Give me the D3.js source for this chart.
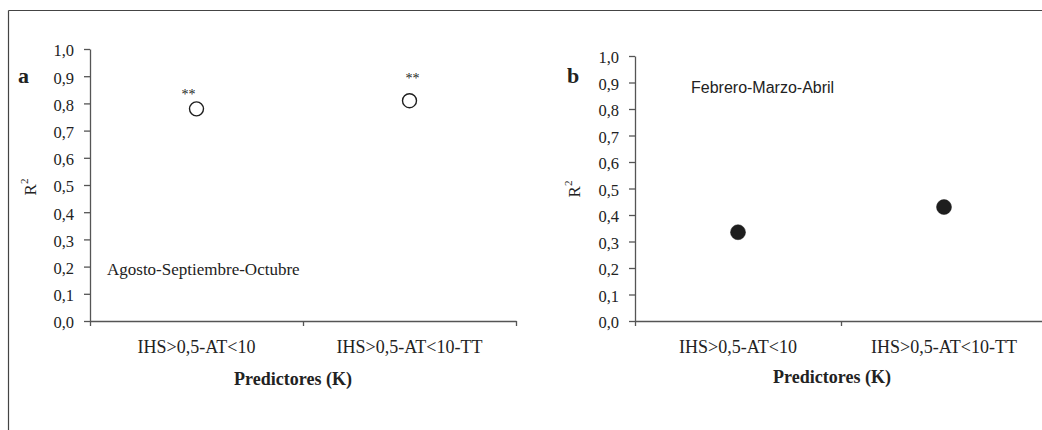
<!DOCTYPE html>
<html>
<head>
<meta charset="utf-8">
<script src="https://cdn.jsdelivr.net/npm/d3@7/dist/d3.min.js"></script>
<style>
  html, body { margin: 0; padding: 0; background: #fff; }
  svg { display: block; }
</style>
</head>
<body>
<svg id="chart" width="1042" height="430"></svg>
<script>
// Predictor sets on the x axis
const categories = ["IHS>0,5-AT<10", "IHS>0,5-AT<10-TT"];
// Coefficient of determination per predictor set
const r2AgoSepOct = [0.78, 0.81];
const r2FebMarAbr = [0.335, 0.43];
// Significance marks above each point
const signifAgoSepOct = ["**", "**"];
const signifFebMarAbr = ["", ""];
// Y-axis ticks
const yTicks = [0, 0.1, 0.2, 0.3, 0.4, 0.5, 0.6, 0.7, 0.8, 0.9, 1.0];

const svg = d3.select("#chart");
const ink = "#222";
const axisInk = "#555";
const serif = "'Liberation Serif', 'Times New Roman', serif";
const sans = "'Liberation Sans', Arial, sans-serif";
const fmt = v => d3.format(".1f")(v).replace(".", ",");

// Frame lines along the top and left edges
svg.append("line").attr("x1", 8.5).attr("x2", 1042).attr("y1", 10.5).attr("y2", 10.5)
  .attr("stroke", "#444").attr("stroke-width", 1.2);
svg.append("line").attr("x1", 8.5).attr("x2", 8.5).attr("y1", 10.5).attr("y2", 430)
  .attr("stroke", "#444").attr("stroke-width", 1.2);

function panel(opts) {
  const g = svg.append("g");
  const x = d3.scaleBand().domain(categories).range([opts.x0, opts.x1]);
  const y = d3.scaleLinear().domain([0, 1]).range([opts.yBottom, opts.yTop]);

  // Y axis
  const ya = g.append("g").attr("transform", `translate(${opts.x0},0)`)
    .call(d3.axisLeft(y).tickValues(yTicks).tickFormat(fmt).tickSize(6).tickSizeOuter(0).tickPadding(10));
  ya.select(".domain").attr("stroke", axisInk).attr("stroke-width", 1.3);
  ya.selectAll(".tick line").attr("stroke", axisInk).attr("stroke-width", 1.3);
  ya.selectAll(".tick text").attr("font-family", serif).attr("font-size", 16.5)
    .attr("fill", ink).attr("dy", "0.42em");

  // X axis: line with ticks at the band boundaries
  const edges = d3.scaleLinear().domain([0, categories.length]).range(x.range());
  const xa = g.append("g").attr("transform", `translate(0,${opts.yBottom})`)
    .call(d3.axisBottom(edges).tickValues(d3.range(categories.length + 1)).tickFormat("").tickSize(5).tickSizeOuter(0));
  xa.select(".domain").attr("stroke", axisInk).attr("stroke-width", 1.3);
  xa.selectAll(".tick line").attr("stroke", axisInk).attr("stroke-width", 1.3);

  // Category labels centred in each band
  g.selectAll("text.cat").data(categories).join("text")
    .attr("class", "cat")
    .attr("x", d => x(d) + x.bandwidth() / 2)
    .attr("y", opts.yBottom + 32)
    .attr("text-anchor", "middle")
    .attr("font-family", serif).attr("font-size", 18).attr("fill", ink)
    .text(d => d);

  // Axis titles
  g.append("text")
    .attr("x", opts.titleX).attr("y", opts.titleY)
    .attr("text-anchor", "middle")
    .attr("font-family", serif).attr("font-size", 18).attr("font-weight", "bold").attr("fill", ink)
    .text("Predictores (K)");

  const yt = g.append("text")
    .attr("transform", `translate(${opts.yTitleX},${opts.yTitleY}) rotate(-90)`)
    .attr("text-anchor", "middle")
    .attr("font-family", serif).attr("font-size", 17).attr("fill", ink);
  yt.append("tspan").text("R");
  yt.append("tspan").attr("font-size", 11).attr("dy", -8).text("2");

  // Panel letter
  g.append("text")
    .attr("x", opts.letterX).attr("y", 83)
    .attr("font-family", serif).attr("font-size", 22).attr("font-weight", "bold").attr("fill", ink)
    .text(opts.letter);

  // Period label
  g.append("text")
    .attr("x", opts.periodX).attr("y", opts.periodY)
    .attr("font-family", opts.periodFont).attr("font-size", opts.periodSize).attr("fill", ink)
    .text(opts.period);

  // Points
  g.selectAll("circle.pt").data(opts.values).join("circle")
    .attr("class", "pt")
    .attr("cx", (d, i) => x(categories[i]) + x.bandwidth() / 2)
    .attr("cy", d => y(d))
    .attr("r", opts.filled ? 7.5 : 7)
    .attr("fill", opts.filled ? "#1e1e1e" : "#fff")
    .attr("stroke", "#1e1e1e").attr("stroke-width", opts.filled ? 0.5 : 1.4);

  // Significance marks
  g.selectAll("text.sig").data(opts.signif).join("text")
    .attr("class", "sig")
    .attr("x", (d, i) => x(categories[i]) + x.bandwidth() / 2 + opts.sigOffsets[i][0])
    .attr("y", (d, i) => y(opts.values[i]) + opts.sigOffsets[i][1])
    .attr("text-anchor", "middle")
    .attr("font-family", serif).attr("font-size", 14).attr("fill", "#222")
    .text(d => d);
}

panel({
  x0: 90, x1: 516, yBottom: 321, yTop: 49,
  values: r2AgoSepOct, signif: signifAgoSepOct, sigOffsets: [[-8, -10], [3, -18]],
  filled: false,
  titleX: 293, titleY: 385,
  yTitleX: 36, yTitleY: 187,
  letter: "a", letterX: 18,
  period: "Agosto-Septiembre-Octubre", periodX: 107, periodY: 275,
  periodFont: serif, periodSize: 17
});

panel({
  x0: 635, x1: 1047, yBottom: 321, yTop: 56,
  values: r2FebMarAbr, signif: signifFebMarAbr, sigOffsets: [[0, 0], [0, 0]],
  filled: true,
  titleX: 832, titleY: 383,
  yTitleX: 580, yTitleY: 189,
  letter: "b", letterX: 567,
  period: "Febrero-Marzo-Abril", periodX: 691, periodY: 93,
  periodFont: sans, periodSize: 16
});
</script>
</body>
</html>
